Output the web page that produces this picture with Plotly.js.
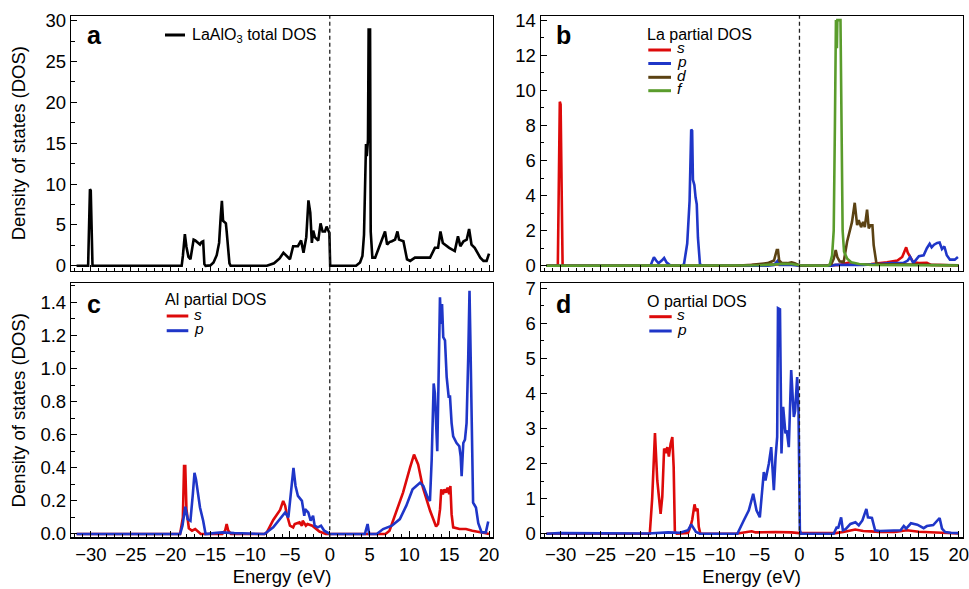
<!DOCTYPE html>
<html>
<head>
<meta charset="utf-8">
<script src="https://cdn.plot.ly/plotly-3.0.1.min.js"></script>
<style>html,body{margin:0;padding:0;background:#fff;}#chart{width:969px;height:589px;}</style>
</head>
<body>
<div id="chart"></div>
<script>
// ---------- Panel a: LaAlO3 total DOS ----------
const totalE = [-31.8,-30.35,-30.12,-30.02,-29.8,-18.6,-18.45,-18.2,-18.0,-17.75,-17.5,-17.1,-16.9,-16.6,-16.3,-16.1,-15.9,-15.75,-15.6,-15.0,-14.6,-14.2,-13.9,-13.7,-13.55,-13.4,-13.2,-13.05,-12.95,-12.8,-12.6,-12.45,-7.9,-7.0,-6.3,-5.82,-5.4,-5.0,-4.6,-4.0,-3.6,-3.3,-2.95,-2.68,-2.45,-2.25,-2.08,-1.87,-1.45,-1.16,-0.9,-0.6,-0.4,-0.2,-0.05,0.05,3.3,3.8,4.1,4.3,4.45,4.55,4.65,4.8,4.88,5.06,5.14,5.35,5.7,6.3,6.94,7.2,7.5,7.8,8.2,8.5,8.7,9.25,9.5,9.7,10.1,10.7,12.6,13.2,13.6,13.9,14.2,14.7,15.0,15.7,16.1,16.4,16.8,17.2,17.5,17.8,18.2,18.9,19.3,19.7,20.0];
const totalDOS = [0,0,9.37,9.2,0,0,1.2,3.87,2.3,1.1,0.8,3.2,3.1,2.8,2.6,2.9,3.0,0.2,0,0.05,0.4,1.3,2.8,6.0,7.95,5.5,5.3,5.2,4.2,2.0,0.3,0,0,0.3,0.9,1.6,1.2,0.8,2.4,2.4,3.1,1.6,3.5,8.0,6.5,2.8,4.3,3.5,3.1,5.2,4.2,4.2,4.8,4.2,4.0,0,0,0.4,1.2,3.8,12,14.9,13.4,15.4,28.9,28.9,4.2,1.0,1.0,2.6,4.2,2.6,2.9,3.0,3.2,4.2,3.2,3.0,1.8,0.8,0.6,1.0,1.0,2.2,2.2,4.2,2.8,2.4,2.2,1.8,3.6,2.4,3.0,3.2,4.5,2.6,2.2,1.0,0.6,0.6,1.5];

// ---------- Panel b: La partial DOS ----------
const laS_E = [-31.8,-30.35,-30.1,-30.0,-29.75,-8,-5,-3,-1,0,3,5,5.8,6.3,7,9,11,12.3,12.9,13.2,13.4,13.6,13.8,14.0,14.3,15.0,16.0,16.5,18,20];
const laS   = [0,0,9.35,9.2,0,0,0.05,0.08,0.1,0.02,0,0.05,0.15,0.2,0.08,0.1,0.2,0.3,0.5,0.9,1.05,0.75,0.6,0.45,0.2,0.15,0.17,0.05,0.05,0.02];
const laP_E = [-31.8,-18.7,-18.5,-18.28,-18.0,-17.7,-17.3,-17.0,-16.7,-16.2,-14.8,-14.5,-14.1,-13.8,-13.6,-13.48,-13.38,-13.2,-13.05,-12.9,-12.75,-12.5,-12.2,-4,-3.2,-2.7,-2.5,-1,0,4,4.5,6,8,10,11.5,13,13.6,13.9,14.3,15.0,15.6,16.0,16.35,16.6,16.9,17.3,17.6,17.9,18.2,18.5,18.9,19.5,19.9];
const laP   = [0,0,0.25,0.48,0.3,0.15,0.3,0.45,0.2,0.02,0,0.1,1.27,3.7,7.77,7.7,4.9,4.6,3.9,3.5,1.6,0.1,0,0,0.05,0.3,0.05,0.05,0,0,0.05,0.05,0.05,0.1,0.15,0.15,0.3,0.5,0.15,0.55,0.6,1.0,1.25,1.05,1.2,1.3,1.33,0.95,1.1,0.6,0.35,0.35,0.5];
const laD_E = [-31.8,-8,-6,-5,-4,-3.2,-2.85,-2.7,-2.55,-2.2,-1.5,-1,-0.6,0,3.5,4.0,4.3,4.55,4.75,5.05,5.56,5.98,6.6,6.94,7.24,7.44,7.74,7.99,8.2,8.49,8.7,8.9,9.16,9.32,9.66,10.0,12,15,20];
const laD   = [0,0,0.05,0.12,0.15,0.3,0.9,0.9,0.3,0.15,0.15,0.2,0.15,0.02,0,0.1,0.4,0.9,0.5,0.25,0.23,1.37,2.5,3.59,2.32,2.6,2.2,2.5,2.2,3.2,2.13,2.3,2.3,1.18,0.15,0.1,0.08,0.05,0.03];
const laF_E = [-31.8,-8,-5,-3,-2,-1,0,3.5,3.8,4.1,4.3,4.45,4.58,4.66,4.7,4.76,5.15,5.27,5.42,5.6,6.0,6.5,7.5,9,20];
const laF   = [0,0,0.03,0.08,0.12,0.1,0.03,0,0.05,0.6,2.0,8.0,14.0,13.9,12.4,14.0,14.0,8.0,2.0,0.8,0.4,0.2,0.1,0.05,0.02];

// ---------- Panel c: Al partial DOS ----------
const alS_E = [-31.8,-18.8,-18.45,-18.3,-18.15,-18.0,-17.7,-17.3,-16.9,-16.5,-16.2,-13.5,-13.15,-12.95,-12.75,-12.4,-8.2,-7.9,-7.1,-6.24,-5.85,-5.6,-5.4,-5.0,-4.6,-4.4,-3.8,-3.5,-3.4,-3.0,-2.8,-2.2,-1.3,-0.5,7.0,7.5,8.0,9.2,10.07,10.58,11.1,11.7,12.6,13.2,13.35,13.6,13.85,14.0,14.2,14.4,14.6,14.8,15.0,15.15,15.3,15.5,16.3,17.1,17.9,19.6,20];
const alS   = [0,0,0.1,0.41,0.41,0.15,0.035,0.02,0.03,0.01,0,0,0.02,0.06,0.02,0,0,0.01,0.085,0.145,0.2,0.17,0.12,0.05,0.04,0.06,0.07,0.05,0.08,0.05,0.06,0.05,0.015,0,0,0.02,0.09,0.25,0.4,0.48,0.42,0.28,0.14,0.06,0.045,0.06,0.15,0.27,0.24,0.27,0.25,0.28,0.24,0.29,0.12,0.04,0.03,0.03,0.02,0.005,0];
const alP_E = [-31.8,-18.8,-18.5,-18.15,-17.85,-17.5,-17.2,-16.99,-16.8,-16.5,-16.3,-15.9,-15.6,-14.5,-13.5,-12,-8.2,-7.1,-6.3,-5.6,-5.2,-4.9,-4.56,-4.3,-4.0,-3.5,-3.2,-3.1,-2.7,-2.4,-2.1,-1.9,-1.5,-1.1,-0.7,0,4.4,4.75,4.95,5.9,6.7,7.8,8.8,9.6,10.4,11.33,11.75,12.3,12.58,12.8,13.05,13.2,13.35,13.5,13.65,13.84,13.97,14.1,14.25,14.47,14.68,14.93,15.1,15.18,15.3,15.5,15.93,16.27,16.44,16.56,16.77,16.98,17.18,17.39,17.55,17.65,17.8,18.0,18.36,18.65,19.07,19.6,19.9];
const alP   = [0,0,0.05,0.165,0.09,0.08,0.24,0.37,0.33,0.24,0.16,0.08,0,0.005,0.01,0.005,0,0.04,0.09,0.13,0.1,0.24,0.4,0.29,0.23,0.2,0.11,0.15,0.13,0.08,0.11,0.05,0.04,0.05,0.02,0,0,0.06,0,0,0.03,0.05,0.09,0.17,0.27,0.31,0.29,0.22,0.2,0.45,0.91,0.85,0.6,0.5,0.9,1.43,1.27,1.39,1.19,1.17,0.95,0.83,0.83,0.75,0.67,0.59,0.55,0.53,0.47,0.35,0.55,0.57,0.67,1.07,1.47,1.2,0.67,0.19,0.16,0.065,0.01,0.01,0.075];

// ---------- Panel d: O partial DOS ----------
const oS_E = [-31.8,-18.8,-18.5,-18.15,-17.86,-17.6,-17.44,-17.23,-17.0,-16.8,-16.6,-16.4,-16.18,-15.97,-15.8,-15.65,-15.4,-14.0,-13.7,-13.47,-13.18,-13.0,-12.8,-12.65,-12.45,-8,-7.5,-6,-5.5,-4,-3,-1,0,4.5,5.5,7,8,9,10,12,13.5,15,17,19,20];
const oS   = [0,0,1.0,2.87,1.52,0.8,0.57,1.05,2.43,2.3,2.47,2.2,2.57,2.76,1.9,0.05,0,0.02,0.2,0.4,0.84,0.65,0.72,0.2,0,0,0.02,0.07,0.04,0.05,0.05,0.04,0.02,0.02,0.05,0.12,0.08,0.07,0.05,0.05,0.1,0.06,0.04,0.01,0.01];
const oP_E = [-31.8,-30.2,-19,-18,-16.5,-15,-14.0,-13.6,-13.3,-13.0,-12.5,-7.8,-7.0,-6.36,-5.81,-5.4,-4.98,-4.48,-4.27,-3.85,-3.55,-3.22,-3.0,-2.8,-2.7,-2.45,-2.26,-2.05,-1.76,-1.6,-1.34,-1.04,-0.71,-0.55,-0.29,-0.12,0.05,0.2,4.3,4.7,4.85,5.23,5.45,5.8,6.4,7.03,7.45,7.9,8.4,8.6,9.1,9.5,10.1,12.7,13.1,13.4,14.0,14.8,15.6,16.0,16.8,17.6,17.9,18.3,19.0,20.0];
const oP   = [0,0.02,0.01,0.03,0.04,0.03,0.1,0.27,0.15,0.05,0,0,0.38,0.67,1.14,0.67,0.47,1.76,1.52,2.0,2.47,1.24,2.19,2.76,6.43,6.4,2.29,3.62,2.86,2.95,2.47,4.67,3.33,3.5,4.47,3.5,0.1,0,0,0.2,0.15,0.47,0.1,0.13,0.28,0.33,0.24,0.38,0.71,0.47,0.45,0.1,0.08,0.1,0.22,0.15,0.3,0.26,0.16,0.22,0.25,0.45,0.15,0.05,0.03,0.02];

// ---------- Labels ----------
const panelLetters = ['a','b','c','d'];
const legendTitles = ['LaAlO<sub>3</sub> total DOS','La partial DOS','Al partial DOS','O partial DOS'];
const laOrbitals = ['s','p','d','f'];
const alOrbitals = ['s','p'];
const oOrbitals = ['s','p'];
const xTickVals = [-30,-25,-20,-15,-10,-5,0,5,10,15,20];

const RED = '#dd0a0a', BLUE = '#1f36c8', BROWN = '#5b4213', GREEN = '#5a9c2c', BLACK = '#000000';
const LW = 2.6;
const FONT = 'Liberation Sans, Arial, Helvetica, sans-serif';

function tr(x, y, xa, ya, color) {
  return {x: x, y: y, xaxis: xa, yaxis: ya, type: 'scatter', mode: 'lines',
          line: {color: color, width: LW}, hoverinfo: 'skip'};
}

const data = [
  tr(totalE, totalDOS, 'x', 'y', BLACK),
  tr(laS_E, laS, 'x2', 'y2', RED),
  tr(laP_E, laP, 'x2', 'y2', BLUE),
  tr(laD_E, laD, 'x2', 'y2', BROWN),
  tr(laF_E, laF, 'x2', 'y2', GREEN),
  tr(alS_E, alS, 'x3', 'y3', RED),
  tr(alP_E, alP, 'x3', 'y3', BLUE),
  tr(oS_E, oS, 'x4', 'y4', RED),
  tr(oP_E, oP, 'x4', 'y4', BLUE)
];

const W = 969, H = 589;
const px = v => v / W;
const py = v => 1 - v / H;

const xBase = {
  range: [-32.5, 20.5], tickmode: 'array', tickvals: xTickVals,
  ticks: 'inside', ticklen: 6, tickwidth: 1, tickcolor: '#000',
  minor: {dtick: 1, tick0: 0, ticks: 'inside', ticklen: 3, tickwidth: 1, tickcolor: '#000', showgrid: false},
  showline: true, mirror: true, linecolor: '#000', linewidth: 1.2,
  showgrid: false, zeroline: false, ticklabeloverflow: 'allow',
  tickfont: {family: FONT, size: 18.5, color: '#000'}
};
function xa(domain, anchor, labels) {
  const o = Object.assign({}, xBase, {domain: domain, anchor: anchor, showticklabels: labels});
  if (labels) o.title = {text: 'Energy (eV)', font: {family: FONT, size: 18.5, color: '#000'}, standoff: 6};
  return o;
}
function ya(domain, anchor, range, dtick, minor, fmt, standoff) {
  const o = {
    domain: domain, anchor: anchor, range: range, dtick: dtick, tick0: 0,
    ticks: 'inside', ticklen: 6, tickwidth: 1, tickcolor: '#000',
    minor: {dtick: minor, tick0: 0, ticks: 'inside', ticklen: 3.5, tickwidth: 1, tickcolor: '#000', showgrid: false},
    showline: true, mirror: true, linecolor: '#000', linewidth: 1.2,
    showgrid: false, zeroline: false, tickformat: fmt, ticklabeloverflow: 'allow',
    tickfont: {family: FONT, size: 18.5, color: '#000'}
  };
  if (standoff !== null) o.title = {text: 'Density of states (DOS)', font: {family: FONT, size: 18.5, color: '#000'}, standoff: standoff};
  return o;
}

const xdL = [px(71), px(493)], xdR = [px(540.7), px(962.7)];
const ydT = [py(270.7), py(15.7)], ydB = [py(537.3), py(283.3)];

const shapes = [];
['x','x2','x3','x4'].forEach((x, i) => {
  const y = ['y','y2','y3','y4'][i];
  shapes.push({type: 'line', xref: x, yref: y + ' domain', x0: 0, x1: 0, y0: 0, y1: 1,
               line: {color: '#222', width: 1.3, dash: '4px,3px'}});
});
function legLine(x0, x1, y, color) {
  shapes.push({type: 'line', xref: 'paper', yref: 'paper', x0: px(x0), x1: px(x1), y0: py(y), y1: py(y),
               line: {color: color, width: 3}});
}
const annotations = [];
function txt(text, x, y, size, opts) {
  annotations.push(Object.assign({text: text, xref: 'paper', yref: 'paper', x: px(x), y: py(y),
    xanchor: 'left', yanchor: 'middle', showarrow: false, borderpad: 0,
    font: {family: FONT, size: size, color: '#000'}}, opts || {}));
}
// panel letters
const letterPos = [[86, 35.5], [555, 35.5], [86, 304], [555, 304]];
panelLetters.forEach((l, i) => txt('<b>' + l + '</b>', letterPos[i][0], letterPos[i][1], 25));

// panel a legend
legLine(165, 185, 35, BLACK);
txt(legendTitles[0], 191, 35, 16);
// panel b legend
txt(legendTitles[1], 646, 34.5, 16);
const laColors = [RED, BLUE, BROWN, GREEN];
const laY = [50, 63.5, 77.3, 90.7];
laOrbitals.forEach((o, i) => { legLine(648.3, 671, laY[i], laColors[i]); txt('<i>' + o + '</i>', 675.5, laY[i] - 2, 15.5); });
// panel c legend
txt(legendTitles[2], 163.5, 299.5, 16);
const alColors = [RED, BLUE];
const alY = [316, 330.7];
alOrbitals.forEach((o, i) => { legLine(166.7, 188.3, alY[i], alColors[i]); txt('<i>' + o + '</i>', 192.5, alY[i] - 2, 15.5); });
// panel d legend
txt(legendTitles[3], 646, 301.5, 16);
const oY = [316.7, 331];
oOrbitals.forEach((o, i) => { legLine(649.3, 671.7, oY[i], alColors[i]); txt('<i>' + o + '</i>', 675.5, oY[i] - 2, 15.5); });

const layout = {
  width: W, height: H, margin: {l: 0, r: 0, t: 0, b: 0},
  paper_bgcolor: '#fff', plot_bgcolor: '#fff', showlegend: false,
  font: {family: FONT, color: '#000'},
  xaxis: xa(xdL, 'y', false),
  xaxis2: xa(xdR, 'y2', false),
  xaxis3: xa(xdL, 'y3', true),
  xaxis4: xa(xdR, 'y4', true),
  yaxis: ya(ydT, 'x', [-0.6, 30.6], 5, 2.5, '', 15),
  yaxis2: ya(ydT, 'x2', [-0.28, 14.25], 2, 1, '', null),
  yaxis3: ya(ydB, 'x3', [-0.02, 1.515], 0.2, 0.1, '.1f', 10),
  yaxis4: ya(ydB, 'x4', [-0.1, 7.14], 1, 0.5, '', null),
  shapes: shapes, annotations: annotations
};

Plotly.newPlot('chart', data, layout, {staticPlot: true, displayModeBar: false});
</script>
</body>
</html>
